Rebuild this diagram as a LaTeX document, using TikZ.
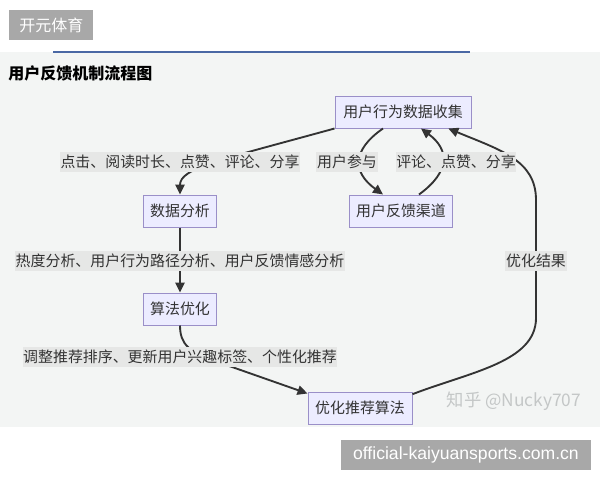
\documentclass[tikz,border=0pt]{standalone}
\usepackage{fontspec}
\setmainfont{Liberation Sans}
\newfontfamily\cjk{Noto Sans CJK SC}
\usetikzlibrary{arrows.meta}
\definecolor{bgc}{HTML}{F3F5F4}
\definecolor{nodefill}{HTML}{ECECFF}
\definecolor{nodeline}{HTML}{9A8FC8}
\definecolor{labelbg}{HTML}{E6E7E6}
\definecolor{txt}{HTML}{333333}
\definecolor{edgec}{HTML}{333333}
\definecolor{tagbg}{HTML}{A8A8A8}
\definecolor{bluel}{HTML}{4A68A4}
\definecolor{wm}{HTML}{C4C7C7}
\begin{document}
\begin{tikzpicture}[x=0.75pt,y=-0.75pt,
  box/.style={draw=nodeline,line width=0.75pt,fill=nodefill,text=txt,
    font=\fontsize{11.2pt}{13pt}\cjk,minimum height=24pt,inner sep=0pt,align=center},
  lbl/.style={fill=labelbg,text=txt,font=\fontsize{11.2pt}{13pt}\cjk,inner xsep=0.5pt,inner ysep=2.5pt},
  edge/.style={draw=edgec,line width=1.4pt,-{Triangle[length=7.5pt,width=7pt]}},
  tag/.style={fill=tagbg,text=white,inner sep=0pt,anchor=north west}]
\useasboundingbox (0,0) rectangle (600,480);
\fill[white] (0,0) rectangle (600,480);
\fill[bgc] (0,52) rectangle (600,427);
\draw[bluel,line width=1.5pt] (53,52) -- (470,52);
\node[tag,minimum width=63pt,minimum height=22.5pt,font=\fontsize{12pt}{14pt}\cjk] (brand) at (9,10) {开元体育};
\node[anchor=west,font=\fontsize{12pt}{14pt}\cjk\bfseries,text=black,inner sep=0pt] (title) at (8,73) {用户反馈机制流程图};
% nodes
\node[box,minimum width=102pt] (A) at (403,112) {用户行为数据收集};
\node[box,minimum width=55pt] (B) at (180,211) {数据分析};
\node[box,minimum width=77pt] (C) at (401,211) {用户反馈渠道};
\node[box,minimum width=55pt] (D) at (180,309) {算法优化};
\node[box,minimum width=78pt] (E) at (360,408) {优化推荐算法};
% edges
\draw[edge] (A.south west) .. controls (220,160) and (180,168) .. (B.north);
\draw[edge] ([xshift=-15pt]A.south) .. controls (352,150) and (352,172) .. ([xshift=-13.5pt]C.north);
\draw[edge] ([xshift=13.5pt]C.north) .. controls (450,172) and (450,150) .. ([xshift=13.5pt]A.south);
\draw[edge] (B.south) -- (D.north);
\draw[edge] (D.south) .. controls (180,345) and (190,352) .. (215,361) -- ([yshift=-1.5pt]E.north west);
\draw[edge] ([yshift=-2pt]E.north east) .. controls (470,372) and (536,362) .. (536,318) -- (536,200) .. controls (536,160) and (500,150) .. ([xshift=34pt]A.south);
% labels
\node[lbl] (l1) at (180,162) {点击、阅读时长、点赞、评论、分享};
\node[lbl] (l2) at (347,162) {用户参与};
\node[lbl] (l3) at (456,162) {评论、点赞、分享};
\node[lbl] (l4) at (180,261) {热度分析、用户行为路径分析、用户反馈情感分析};
\node[lbl] (l5) at (536,261) {优化结果};
\node[lbl] (l6) at (180,357) {调整推荐排序、更新用户兴趣标签、个性化推荐};
% watermark
\node[text=wm,font=\fontsize{13pt}{15pt}\cjk,inner sep=0pt] (wmk) at (514,401) {知乎 @Nucky707};
\node[tag,minimum width=187pt,minimum height=22pt,font=\fontsize{13.2pt}{15pt}\selectfont] (url) at (341,440) {official-kaiyuansports.com.cn};
\end{tikzpicture}
\end{document}
